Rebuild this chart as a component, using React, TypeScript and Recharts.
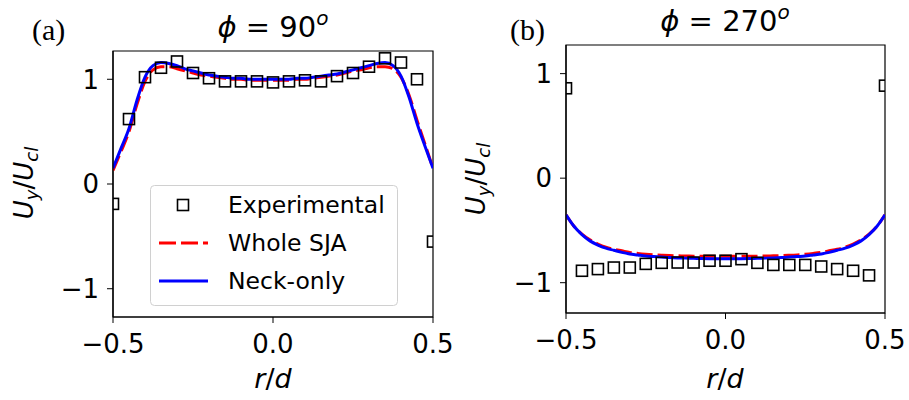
import { ComposedChart, Line, Scatter, XAxis, YAxis, ReferenceArea } from "recharts";

// radial positions of the experimental samples
const rExp = [
  -0.5, -0.45, -0.4, -0.35, -0.3, -0.25, -0.2, -0.15, -0.1, -0.05, 0,
  0.05, 0.1, 0.15, 0.2, 0.25, 0.3, 0.35, 0.4, 0.45, 0.5,
];
const expA = [
  -0.19, 0.62, 1.02, 1.11, 1.17, 1.06, 1.01, 0.98, 0.98, 0.98, 0.97,
  0.98, 0.99, 0.98, 1.03, 1.06, 1.12, 1.2, 1.16, 1.0, -0.55,
];
const expB = [
  0.86, -0.886, -0.87, -0.855, -0.855, -0.82, -0.81, -0.807, -0.807, -0.79, -0.79,
  -0.775, -0.81, -0.83, -0.83, -0.83, -0.845, -0.87, -0.886, -0.93, 0.885,
];

// radial positions of the simulation profiles
const rSim = [
  -0.5, -0.475, -0.45, -0.425, -0.4, -0.375, -0.35, -0.325, -0.3, -0.275,
  -0.25, -0.225, -0.2, -0.175, -0.15, -0.125, -0.1, -0.075, -0.05, -0.025,
  0, 0.025, 0.05, 0.075, 0.1, 0.125, 0.15, 0.175, 0.2, 0.225,
  0.25, 0.275, 0.3, 0.325, 0.35, 0.375, 0.4, 0.425, 0.45, 0.475, 0.5,
];
const wholeA = [
  0.13, 0.31, 0.5, 0.76, 0.98, 1.09, 1.12, 1.12, 1.1, 1.08,
  1.06, 1.04, 1.03, 1.02, 1.01, 1.0, 1.0, 0.99, 0.99, 0.99,
  0.99, 0.99, 0.99, 1.0, 1.0, 1.01, 1.02, 1.03, 1.04, 1.06,
  1.08, 1.09, 1.11, 1.12, 1.12, 1.1, 1.02, 0.85, 0.61, 0.38, 0.15,
];
const neckA = [
  0.15, 0.34, 0.53, 0.8, 1.02, 1.13, 1.16, 1.15, 1.13, 1.1,
  1.08, 1.06, 1.04, 1.03, 1.02, 1.01, 1.01, 1.0, 1.0, 1.0,
  1.0, 1.0, 1.0, 1.01, 1.01, 1.02, 1.03, 1.04, 1.05, 1.07,
  1.09, 1.11, 1.13, 1.15, 1.16, 1.13, 1.03, 0.83, 0.58, 0.36, 0.15,
];
const wholeB = [
  -0.35, -0.46, -0.535, -0.59, -0.63, -0.66, -0.68, -0.695, -0.71, -0.72,
  -0.728, -0.734, -0.738, -0.741, -0.743, -0.745, -0.746, -0.747, -0.747, -0.747,
  -0.747, -0.747, -0.747, -0.747, -0.746, -0.745, -0.743, -0.741, -0.738, -0.734,
  -0.728, -0.72, -0.71, -0.695, -0.68, -0.66, -0.63, -0.59, -0.535, -0.46, -0.35,
];
const neckB = [
  -0.35, -0.46, -0.54, -0.6, -0.64, -0.67, -0.69, -0.71, -0.725, -0.735,
  -0.745, -0.75, -0.755, -0.76, -0.763, -0.765, -0.767, -0.769, -0.77, -0.77,
  -0.77, -0.77, -0.77, -0.769, -0.767, -0.765, -0.763, -0.76, -0.755, -0.75,
  -0.745, -0.735, -0.725, -0.71, -0.69, -0.67, -0.64, -0.6, -0.54, -0.46, -0.35,
];

const xTicks = [-0.5, 0, 0.5];
const yTicks = [-1, 0, 1];
const legendLabels = ["Experimental", "Whole SJA", "Neck-only"];

const FONT = "DejaVu Sans";
const toPts = (xs: number[], ys: number[]) => ys.map((u, i) => ({ r: xs[i], u }));
const fmtX = (v: number) => (v < 0 ? "\u2212" : "") + Math.abs(v).toFixed(1);
const fmtY = (v: number) => (v < 0 ? "\u2212" : "") + Math.abs(v);

const Square = (props: any) => {
  const { cx, cy } = props;
  if (cx == null || cy == null) return null;
  return <rect x={cx - 5.5} y={cy - 5.5} width={11} height={11} fill="none" stroke="#000" strokeWidth={1.6} />;
};

interface PanelProps {
  left: number;
  width: number;
  top: number;
  yAxisW: number;
  xAxisH: number;
  right: number;
  yDomain: [number, number];
  exp: number[];
  whole: number[];
  neck: number[];
}

function Panel(p: PanelProps) {
  const tick = { fontSize: 26, fill: "#000", fontFamily: FONT };
  const axisLine = { stroke: "#000", strokeWidth: 1.2 };
  return (
    <div style={{ position: "absolute", left: p.left, top: 0 }}>
      <ComposedChart
        width={p.width}
        height={400}
        margin={{ top: p.top, right: p.right, left: 0, bottom: 0 }}
      >
        <XAxis
          dataKey="r"
          type="number"
          domain={[-0.5, 0.5]}
          ticks={xTicks}
          tickFormatter={fmtX}
          height={p.xAxisH}
          tick={tick}
          tickSize={6}
          tickMargin={12}
          axisLine={axisLine}
          tickLine={{ stroke: "#000" }}
          allowDataOverflow
        />
        <YAxis
          type="number"
          domain={p.yDomain}
          ticks={yTicks}
          tickFormatter={fmtY}
          width={p.yAxisW}
          tick={tick}
          tickSize={6}
          tickMargin={8}
          axisLine={axisLine}
          tickLine={{ stroke: "#000" }}
          allowDataOverflow
        />
        {/* axes frame (matplotlib box) */}
        <ReferenceArea
          x1={-0.5}
          x2={0.5}
          y1={p.yDomain[0]}
          y2={p.yDomain[1]}
          fill="none"
          fillOpacity={0}
          stroke="#000"
          strokeWidth={1.2}
          ifOverflow="extendDomain"
        />
        <Scatter data={toPts(rExp, p.exp)} dataKey="u" shape={<Square />} isAnimationActive={false} />
        <Line
          data={toPts(rSim, p.whole)}
          dataKey="u"
          type="monotone"
          stroke="#ff0000"
          strokeWidth={3}
          strokeDasharray="16 5"
          dot={false}
          activeDot={false}
          isAnimationActive={false}
        />
        <Line
          data={toPts(rSim, p.neck)}
          dataKey="u"
          type="monotone"
          stroke="#0000ff"
          strokeWidth={3}
          dot={false}
          activeDot={false}
          isAnimationActive={false}
        />
      </ComposedChart>
    </div>
  );
}

function YLabel({ x, y }: { x: number; y: number }) {
  return (
    <text transform={`translate(${x},${y}) rotate(-90)`} textAnchor="middle" fontSize={26} fontFamily={FONT}>
      <tspan fontStyle="italic">U</tspan>
      <tspan fontStyle="italic" fontSize={18} dy={5}>y</tspan>
      <tspan dy={-5}>/</tspan>
      <tspan fontStyle="italic">U</tspan>
      <tspan fontStyle="italic" fontSize={18} dy={5}>cl</tspan>
    </text>
  );
}

function XLabel({ x }: { x: number }) {
  return (
    <text x={x} y={388} textAnchor="middle" fontSize={27} fontFamily={FONT}>
      <tspan fontStyle="italic">r</tspan>/<tspan fontStyle="italic">d</tspan>
    </text>
  );
}

function Title({ x, y, angle }: { x: number; y: number; angle: string }) {
  return (
    <text x={x} y={y} textAnchor="middle" fontSize={29} fontFamily={FONT}>
      <tspan fontStyle="italic">ϕ</tspan>
      <tspan> = {angle}</tspan>
      <tspan fontStyle="italic" fontSize={20} dy={-12}>o</tspan>
    </text>
  );
}

export default function App() {
  return (
    <div style={{ position: "absolute", left: 0, top: 0, width: 909, height: 400, background: "#fff" }}>
      <Panel left={0} width={455} top={51} yAxisW={113} xAxisH={83} right={22} yDomain={[-1.27, 1.27]} exp={expA} whole={wholeA} neck={neckA} />
      <Panel left={455} width={454} top={45} yAxisW={111} xAxisH={87} right={24} yDomain={[-1.29, 1.274]} exp={expB} whole={wholeB} neck={neckB} />
      <svg width={909} height={400} style={{ position: "absolute", left: 0, top: 0, pointerEvents: "none" }}>
        <text x={32} y={40} fontSize={30} fontFamily="Liberation Serif">(a)</text>
        <text x={510} y={40} fontSize={30} fontFamily="Liberation Serif">(b)</text>
        <Title x={273} y={37} angle="90" />
        <Title x={725} y={31} angle="270" />
        <YLabel x={33} y={183} />
        <YLabel x={485} y={179} />
        <XLabel x={273} />
        <XLabel x={725} />
        {/* legend of panel (a) */}
        <rect x={150.5} y={185.5} width={247} height={120} rx={4} fill="#fff" fillOpacity={0.8} stroke="#d0d0d0" />
        <rect x={177.5} y={199.5} width={11} height={11} fill="none" stroke="#000" strokeWidth={1.6} />
        <line x1={159} x2={208} y1={243} y2={243} stroke="#ff0000" strokeWidth={3} strokeDasharray="17 5" />
        <line x1={159} x2={208} y1={281} y2={281} stroke="#0000ff" strokeWidth={3} />
        {legendLabels.map((t, i) => (
          <text key={t} x={228} y={205 + i * 38} dy="0.36em" fontSize={23.5} fontFamily={FONT}>
            {t}
          </text>
        ))}
      </svg>
    </div>
  );
}
